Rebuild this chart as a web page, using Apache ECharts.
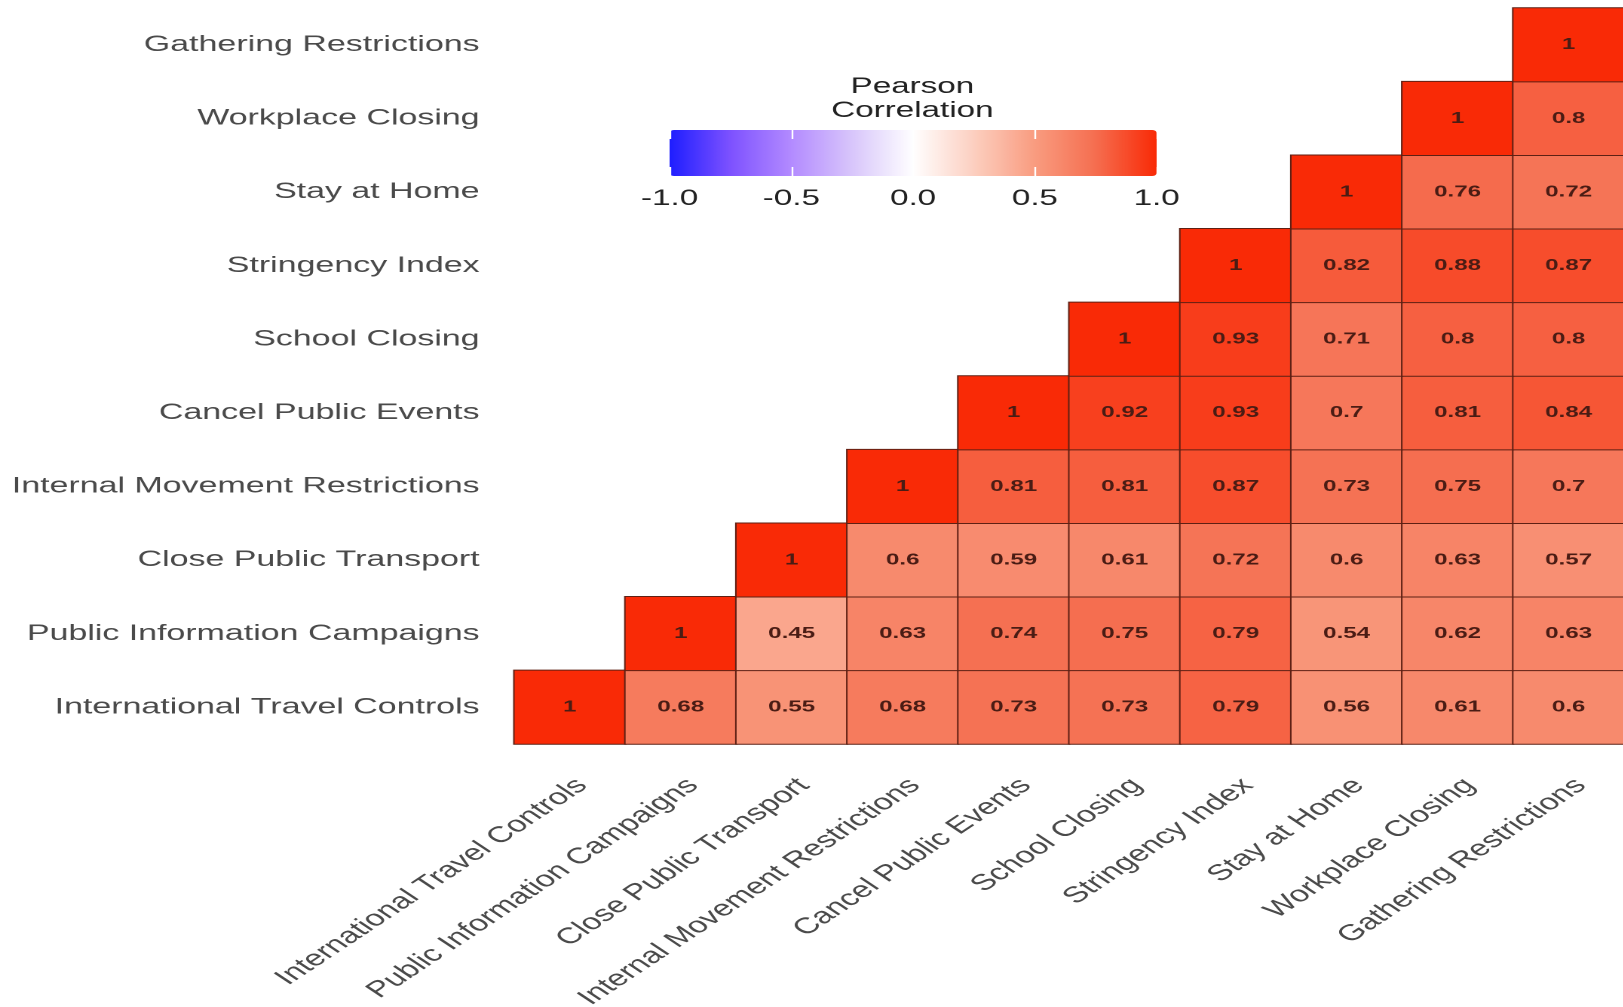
<!DOCTYPE html>
<html>
<head>
<meta charset="utf-8">
<script src="https://cdn.jsdelivr.net/npm/echarts@6/dist/echarts.min.js"></script>
<style>
  html, body { margin: 0; padding: 0; background: #ffffff; overflow: hidden; width: 1623px; height: 1007px; }
  #chart { width: 1077px; height: 1007px; transform: scaleX(1.508); transform-origin: 0 0; }
</style>
</head>
<body>
<div id="chart"></div>
<script>
// Categories (bottom-to-top on y, left-to-right on x)
const categories = [
  'International Travel Controls',
  'Public Information Campaigns',
  'Close Public Transport',
  'Internal Movement Restrictions',
  'Cancel Public Events',
  'School Closing',
  'Stringency Index',
  'Stay at Home',
  'Workplace Closing',
  'Gathering Restrictions'
];

// Upper-triangle correlation values: row r holds columns r..9
const rowITC = [1, 0.68, 0.55, 0.68, 0.73, 0.73, 0.79, 0.56, 0.61, 0.6];
const rowPIC = [1, 0.45, 0.63, 0.74, 0.75, 0.79, 0.54, 0.62, 0.63];
const rowCPT = [1, 0.6, 0.59, 0.61, 0.72, 0.6, 0.63, 0.57];
const rowIMR = [1, 0.81, 0.81, 0.87, 0.73, 0.75, 0.7];
const rowCPE = [1, 0.92, 0.93, 0.7, 0.81, 0.84];
const rowSC  = [1, 0.93, 0.71, 0.8, 0.8];
const rowSI  = [1, 0.82, 0.88, 0.87];
const rowSAH = [1, 0.76, 0.72];
const rowWC  = [1, 0.8];
const rowGR  = [1];
const matrixRows = [rowITC, rowPIC, rowCPT, rowIMR, rowCPE, rowSC, rowSI, rowSAH, rowWC, rowGR];

// Legend tick values and labels
const legendTicks = [-1, -0.5, 0, 0.5, 1];
const legendTickLabels = ['-1.0', '-0.5', '0.0', '0.5', '1.0'];

const heatData = [];
matrixRows.forEach(function (row, r) {
  row.forEach(function (v, k) { heatData.push([r + k, r, v]); });
});

const FONT = 'Liberation Sans, Arial, Helvetica, sans-serif';

const chart = echarts.init(document.getElementById('chart'), null, { devicePixelRatio: 2, width: 1077, height: 1007 });

chart.setOption({
  backgroundColor: '#ffffff',
  animation: false,
  title: {
    text: 'Pearson\nCorrelation',
    left: 605,
    top: 75,
    textAlign: 'center',
    padding: 0,
    textStyle: { fontFamily: FONT, fontSize: 22, fontWeight: 'normal', color: '#222222', lineHeight: 24 }
  },
  grid: [
    { left: 341, top: 8, width: 736, height: 736, containLabel: false, outerBoundsMode: 'none' },
    { left: 444, top: 130, width: 323, height: 46, containLabel: false, outerBoundsMode: 'none' }
  ],
  xAxis: [
    {
      type: 'category', gridIndex: 0, data: categories,
      axisLine: { show: false }, axisTick: { show: false }, splitLine: { show: false },
      axisLabel: {
        interval: 0, rotate: 45, margin: 30, align: 'right', verticalAlign: 'top',
        fontFamily: FONT, fontSize: 22.5, color: '#4a4a4a'
      }
    },
    {
      type: 'value', gridIndex: 1, min: -1, max: 1, interval: 0.5, position: 'bottom', z: 10,
      axisLine: { show: false }, splitLine: { show: false },
      axisTick: { show: true, inside: true, length: 9, lineStyle: { color: '#ffffff', width: 1.2 } },
      axisLabel: {
        margin: 12, showMinLabel: true, showMaxLabel: true,
        fontFamily: FONT, fontSize: 22, color: '#222222',
        formatter: function (v) { const i = legendTicks.indexOf(v); return i >= 0 ? legendTickLabels[i] : ''; }
      }
    },
    {
      type: 'value', gridIndex: 1, min: -1, max: 1, interval: 0.5, position: 'top', z: 10,
      axisLine: { show: false }, splitLine: { show: false },
      axisTick: { show: true, inside: true, length: 9, lineStyle: { color: '#ffffff', width: 1.2 } },
      axisLabel: { show: false }
    }
  ],
  yAxis: [
    {
      type: 'category', gridIndex: 0, data: categories,
      axisLine: { show: false }, axisTick: { show: false }, splitLine: { show: false },
      axisLabel: { margin: 23, padding: [8, 0, 0, 0], fontFamily: FONT, fontSize: 22.5, color: '#4a4a4a' }
    },
    {
      type: 'value', gridIndex: 1, min: 0, max: 1, show: false
    }
  ],
  visualMap: {
    type: 'continuous',
    seriesIndex: 0,
    min: -1,
    max: 1,
    orient: 'horizontal',
    left: 444,
    top: 130,
    padding: 0,
    itemWidth: 46,
    itemHeight: 323,
    calculable: false,
    hoverLink: false,
    showLabel: false,
    text: null,
    inRange: {
      color: ['#1e1eff', '#7e52ff', '#b38bff', '#d8c6fb', '#ffffff', '#fccfc0', '#f99c80', '#f56e50', '#f92a06']
    }
  },
  series: [
    {
      type: 'heatmap',
      xAxisIndex: 0,
      yAxisIndex: 0,
      data: heatData,
      itemStyle: { borderColor: '#5e2014', borderWidth: 1 },
      label: {
        show: true,
        fontFamily: FONT,
        fontSize: 16,
        fontWeight: 'bold',
        color: '#4a1c14',
        formatter: function (p) { return String(p.value[2]); }
      },
      emphasis: { disabled: true }
    }
  ]
});
</script>
</body>
</html>
